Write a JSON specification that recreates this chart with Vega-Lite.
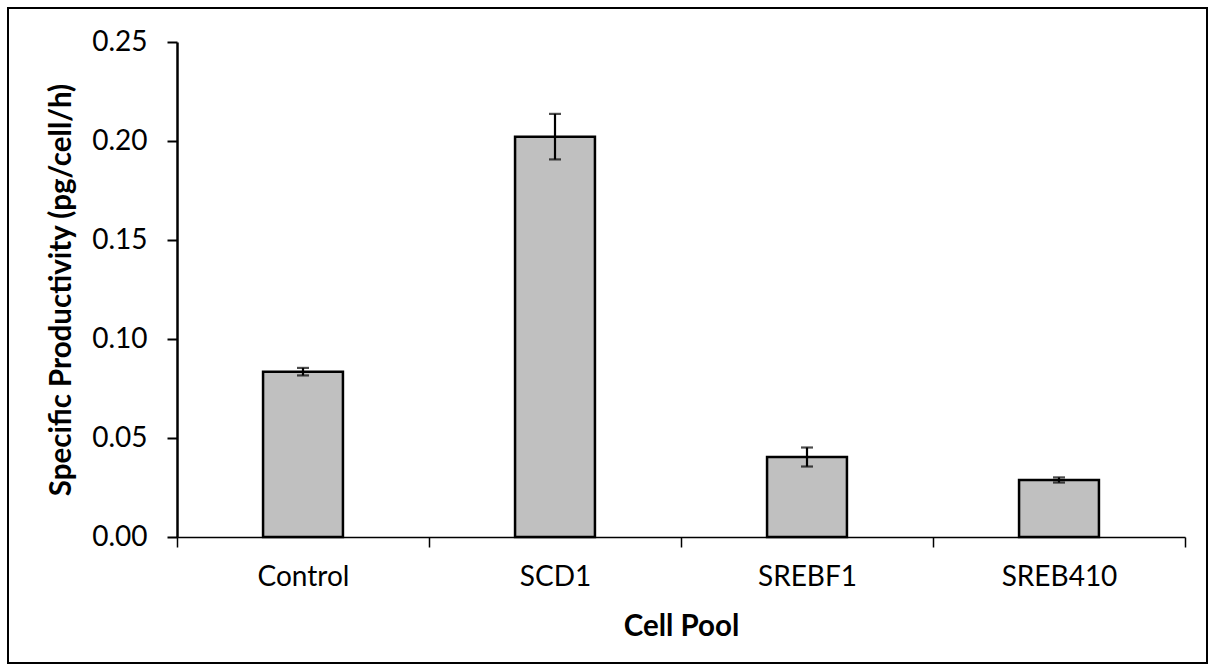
{
  "$schema": "https://vega.github.io/schema/vega-lite/v6.json",
  "width": 1199,
  "height": 655,
  "autosize": {"type": "none"},
  "padding": {"left": 8, "top": 8, "right": 7, "bottom": 8},
  "background": "white",
  "config": {
    "view": {"stroke": "black", "strokeWidth": 2},
    "font": "Lato",
    "axis": {
      "labelFont": "Lato",
      "titleFont": "Lato",
      "labelColor": "black",
      "titleColor": "black",
      "domainColor": "black",
      "tickColor": "black",
      "grid": false
    }
  },
  "data": {
    "values": [
      {"pool": "Control", "sp": 0.0835, "err": 0.0019},
      {"pool": "SCD1", "sp": 0.2022, "err": 0.0115},
      {"pool": "SREBF1", "sp": 0.0404, "err": 0.0048},
      {"pool": "SREB410", "sp": 0.0288, "err": 0.0013}
    ]
  },
  "layer": [
    {
      "mark": {"type": "bar", "fill": "#c0c0c0", "stroke": "black", "strokeWidth": 2.5, "width": {"band": 0.317}},
      "encoding": {
        "x": {
          "field": "pool",
          "type": "nominal",
          "sort": null,
          "scale": {"range": [169, 1177], "paddingInner": 0, "paddingOuter": 0},
          "axis": {
            "orient": "bottom",
            "offset": -126,
            "title": "Cell Pool",
            "titleFontSize": 29.5,
            "titleFontWeight": "bold",
            "titlePadding": 21,
            "labelFontSize": 28,
            "labelAngle": 0,
            "labelPadding": 16,
            "tickBand": "extent",
            "tickSize": 10,
            "tickWidth": 1.5,
            "domainWidth": 1.5
          }
        },
        "y": {
          "field": "sp",
          "type": "quantitative",
          "title": "Specific Productivity (pg/cell/h)",
          "scale": {"domain": [0, 0.25], "range": [529, 34], "nice": false},
          "axis": {
            "orient": "left",
            "offset": -169,
            "values": [0, 0.05, 0.1, 0.15, 0.2, 0.25],
            "format": ".2f",
            "titleFontSize": 29.5,
            "titleFontWeight": "bold",
            "titlePadding": 15,
            "labelFontSize": 28,
            "labelPadding": 20,
            "tickSize": 10,
            "tickWidth": 2,
            "domainWidth": 2.5
          }
        }
      }
    },
    {
      "mark": {"type": "errorbar", "ticks": true, "size": 12, "thickness": 2.2, "color": "black"},
      "encoding": {
        "x": {"field": "pool", "type": "nominal", "sort": null},
        "y": {"field": "sp", "type": "quantitative", "title": "Specific Productivity (pg/cell/h)"},
        "yError": {"field": "err"}
      }
    }
  ]
}
